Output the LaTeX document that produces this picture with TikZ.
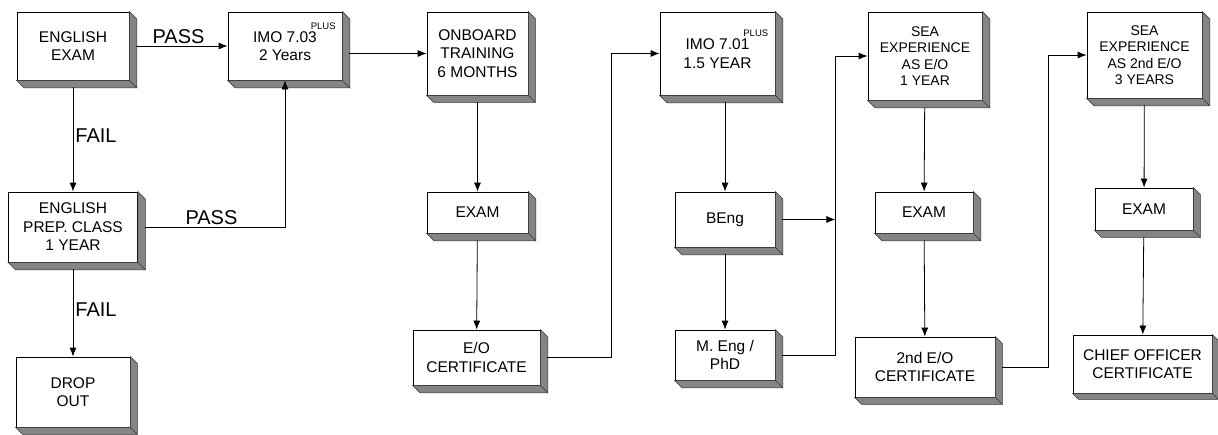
\documentclass[tikz,border=0pt]{standalone}
\usepackage{fontspec}
\setmainfont{Liberation Sans}
\usetikzlibrary{arrows.meta}
\usetikzlibrary{calc}

\tikzset{
  stage/.style={draw=black, fill=white, line width=0.8pt, align=center, inner sep=1pt,
    font=\fontsize{15.5}{18.5}\selectfont},
  seabox/.style={stage, font=\fontsize{14}{16.5}\selectfont},
  bevel/.style={fill=black!48, draw=black!80, line width=0.5pt},
  link/.style={-{Latex[length=9pt,width=7pt]}, line width=0.8pt, shorten <=7pt},
  tag/.style={font=\fontsize{20}{20}\selectfont, inner sep=2pt},
}
\newcommand{\plustag}{\rlap{\hspace{-6pt}\smash{\raisebox{13pt}{\fontsize{9.5}{9.5}\selectfont PLUS}}}}

\begin{document}
\begin{tikzpicture}[x=1pt, y=-1pt]
  \useasboundingbox (0,0) rectangle (1218,434);
  % first column
  \node[stage, minimum width=112, minimum height=68] (eng) at (73,46) {ENGLISH\\EXAM};
  \node[stage, minimum width=129, minimum height=70] (prep) at (73,227) {ENGLISH\\PREP. CLASS\\1 YEAR};
  \node[stage, minimum width=114, minimum height=70] (drop) at (73,392) {DROP\\OUT};
  \node[stage, minimum width=114, minimum height=68] (imoa) at (285,46) {IMO 7.03\plustag\\2 Years};
  % training
  \node[stage, minimum width=101, minimum height=83] (onb) at (477.5,53.5) {ONBOARD\\TRAINING\\6 MONTHS};
  \node[stage, minimum width=101, minimum height=41] (exama) at (477.5,212.5) {EXAM};
  \node[stage, minimum width=127, minimum height=55] (eocert) at (476.5,357.5) {E/O\\CERTIFICATE};
  % degree
  \node[stage, minimum width=115, minimum height=83] (imob) at (717.5,53.5) {IMO 7.01\plustag\\1.5 YEAR};
  \node[stage, minimum width=100, minimum height=55] (beng) at (725,219.5) {BEng};
  \node[stage, minimum width=100, minimum height=50] (meng) at (725,355) {M. Eng /\\PhD};
  % sea service
  \node[seabox, minimum width=114, minimum height=88] (seaa) at (925,56) {SEA\\EXPERIENCE\\AS E/O\\1 YEAR};
  \node[stage, minimum width=98, minimum height=41] (examb) at (924,212.5) {EXAM};
  \node[stage, minimum width=140, minimum height=60] (cert2) at (925,367) {2nd E/O\\CERTIFICATE};
  \node[seabox, minimum width=115, minimum height=86] (seab) at (1144.5,55) {SEA\\EXPERIENCE\\AS 2nd E/O\\3 YEARS};
  \node[stage, minimum width=98, minimum height=42] (examc) at (1144,209) {EXAM};
  \node[stage, minimum width=139, minimum height=58] (chief) at (1142.5,364) {CHIEF OFFICER\\CERTIFICATE};

  % raised edges
  \foreach \b/\d in {eng/7.5, prep/7.5, drop/7, imoa/7.5, onb/7, exama/7.5, eocert/7.5,
                     imob/7.5, beng/7.5, meng/7.5, seaa/7.5, examb/7.5, cert2/7,
                     seab/7.5, examc/7, chief/6} {
    \filldraw[bevel] (\b.north east) -- ++(\d,\d) -- ($(\b.south east)+(\d,\d)$)
      -- ($(\b.south west)+(\d,\d)$) -- (\b.south west) -- (\b.south east) -- cycle;
    \draw[bevel, fill=none] (\b.south east) -- ++(\d,\d);
  }

  \draw[link] (eng) -- node[tag, above] {PASS} (imoa);
  \draw[link] (eng) -- node[tag, right] {FAIL} (prep);
  \draw[link] (prep) -| node[tag, pos=0.25, above] {PASS} (imoa);
  \draw[link] (prep) -- node[tag, right] {FAIL} (drop);
  \draw[link] (imoa.east |- onb.west) -- (onb.west);
  \draw[link] (onb) -- (exama);
  \draw[link] (exama) -- (eocert);
  \draw[link] (eocert.east) -- ++(71,0) |- (imob.west);
  \draw[link] (beng.north |- imob.south) -- (beng);
  \draw[link] (beng) -- (meng);
  \draw[link] (meng.east) -- ++(60,0) coordinate (mjoin) |- (seaa.west);
  \draw[link] (beng.east) -- (beng.east -| mjoin);
  \draw[link] (seaa) -- (examb);
  \draw[link] (examb) -- (cert2);
  \draw[link] (cert2.east) -- ++(53,0) |- (seab.west);
  \draw[link] (seab) -- (examc);
  \draw[link] (examc) -- (chief);
\end{tikzpicture}
\end{document}
